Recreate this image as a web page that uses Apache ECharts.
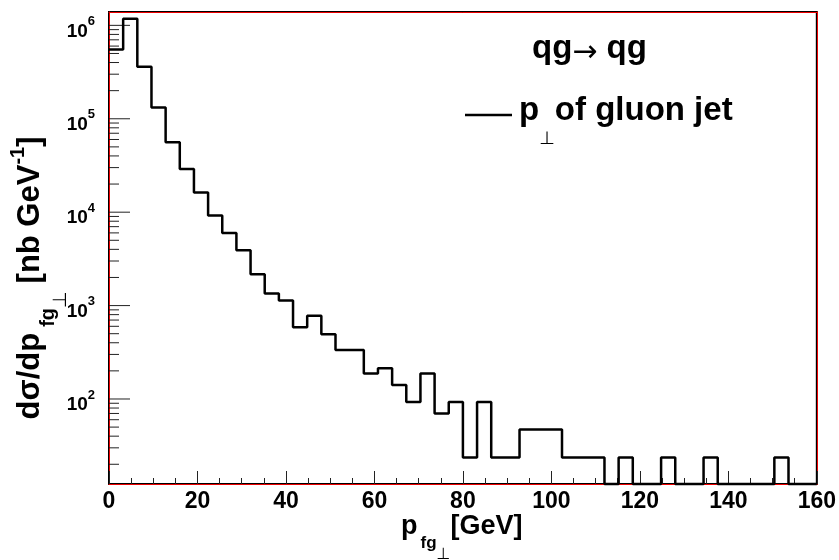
<!DOCTYPE html>
<html><head><meta charset="utf-8">
<script src="https://cdn.jsdelivr.net/npm/echarts@6/dist/echarts.min.js"></script>
<style>html,body{margin:0;padding:0;background:#fff}#c{width:839px;height:560px}</style>
</head><body><div id="c"></div>
<script>
// ---- data ----
const binWidth = 3.2;            // GeV per bin (50 bins over 0..160)
const binCounts = [
  5.5e5, 1.18e6, 3.6e5, 1.32e5, 5.6e4, 2.9e4, 1.62e4, 9.2e3, 6.0e3, 3.9e3,
  2.16e3, 1.35e3, 1.13e3, 585, 776, 493, 334, 334, 188, 213,
  141, 93, 188, 70, 93, 23.7, 93, 23.7, 23.7, 47,
  47, 47, 23.7, 23.7, 23.7, 0, 23.7, 0, 0, 23.7,
  0, 0, 23.7, 0, 0, 0, 0, 23.7, 0, 0
];
const xTickLabels = [0, 20, 40, 60, 80, 100, 120, 140, 160];
const yDecades = [10, 100, 1000, 10000, 100000, 1000000];
const yMinorMultipliers = [2, 3, 4, 5, 6, 7, 8, 9];
const xRange = [0, 160];
const yRange = [12.3, 1.39e6];

const FONT = 'Liberation Sans';
const SYM = 'DejaVu Sans';

// histogram step points from bin edges (empty bins sit on the axis floor)
const floorOf = v => (v > 0 ? v : yRange[0]);
const stepData = binCounts.map((v, i) => [i * binWidth, floorOf(v)]);
stepData.push([binCounts.length * binWidth, floorOf(binCounts[binCounts.length - 1])]);

// ROOT-style tick marks on the log axis (major + minor)
const yTicks = [];
yDecades.forEach(d => {
  if (d >= yRange[0] && d <= yRange[1]) yTicks.push([xRange[0], d, 1]);
  yMinorMultipliers.forEach(m => {
    const v = d * m;
    if (v >= yRange[0] && v <= yRange[1]) yTicks.push([xRange[0], v, 0]);
  });
});

const B = (size, extra) => Object.assign({fontFamily: FONT, fontWeight: 'bold', fontSize: size, lineHeight: size, color: '#000', fill: '#000'}, extra || {});
const S = (size, extra) => Object.assign({fontFamily: SYM, fontWeight: 'normal', fontSize: size, lineHeight: size, color: '#000', fill: '#000'}, extra || {});

const chart = echarts.init(document.getElementById('c'), null, {renderer: 'canvas'});
chart.setOption({
  animation: false,
  backgroundColor: '#fff',
  grid: {left: 109, right: 22, top: 12, bottom: 76, show: true, borderColor: '#000', borderWidth: 2, backgroundColor: '#fff'},
  legend: {
    left: 465, top: 82, padding: 0, itemGap: 0,
    icon: 'rect', itemWidth: 47, itemHeight: 2.5,
    data: [{name: 'pt', itemStyle: {color: '#000'}}],
    formatter: () => '{p|p}{perp|⊥}{t|of gluon jet}',
    textStyle: {rich: {
      p: B(33, {padding: [0, 0, 9, 2]}),
      perp: S(18, {padding: [48, 0, 0, 0]}),
      t: B(33, {padding: [0, 0, 9, 0]})
    }}
  },
  xAxis: [{
    type: 'value', min: xRange[0], max: xRange[1], interval: 20,
    axisLine: {show: true, onZero: false, lineStyle: {color: '#e00', width: 1}},
    axisTick: {show: true, inside: true, length: 13, lineStyle: {color: '#222', width: 1}},
    minorTick: {show: true, splitNumber: 4, length: 6, lineStyle: {color: '#222', width: 1}},
    splitLine: {show: false},
    axisLabel: {fontFamily: FONT, fontWeight: 'bold', fontSize: 23, color: '#000', margin: 6}
  }, {
    type: 'value', position: 'top', min: xRange[0], max: xRange[1],
    axisLine: {show: true, onZero: false, lineStyle: {color: '#e00', width: 1}},
    axisTick: {show: false}, axisLabel: {show: false}, splitLine: {show: false}
  }],
  yAxis: [{
    type: 'log', logBase: 10, min: yRange[0], max: yRange[1], splitNumber: 5,
    axisLine: {show: true, onZero: false, lineStyle: {color: '#e00', width: 1}},
    axisTick: {show: false},
    splitLine: {show: false},
    axisLabel: {
      showMinLabel: false, showMaxLabel: false, margin: 14,
      formatter: v => '{b|10}{s|' + Math.round(Math.log10(v)) + '}',
      rich: {
        b: B(19, {padding: [12, 0, 0, 0]}),
        s: B(13, {padding: [0, 0, 8, 0]})
      }
    }
  }, {
    type: 'value', position: 'right', min: 0, max: 1,
    axisLine: {show: true, onZero: false, lineStyle: {color: '#e00', width: 1}},
    axisTick: {show: false}, axisLabel: {show: false}, splitLine: {show: false}
  }],
  graphic: [{
    // process label
    type: 'text', x: 532, y: 49,
    style: {
      text: '{q|qg}{a|→}{q| qg}', align: 'left', verticalAlign: 'middle',
      rich: {q: B(33), a: S(30, {padding: [8, 0, 0, 0]})}
    }
  }, {
    // x axis title
    type: 'text', x: 401, y: 527,
    style: {
      text: '{p|p}{sub|fg}{perp|⊥}{t|[GeV]}', align: 'left', verticalAlign: 'middle',
      rich: {
        p: B(27), t: B(27),
        sub: B(17, {padding: [33, 0, 0, 3]}),
        perp: S(16, {padding: [56, 0, 0, 0]})
      }
    }
  }, {
    // y axis title
    type: 'text', x: 30, y: 278, rotation: Math.PI / 2,
    style: {
      text: '{n|dσ/dp}{sub|fg}{perp|⊥}{n|[nb GeV}{sup|-1}{n|]}',
      align: 'center', verticalAlign: 'middle',
      rich: {
        n: B(31),
        sub: B(20, {padding: [36, 0, 0, 6]}),
        perp: S(19, {padding: [62, 8, 0, 0]}),
        sup: B(20, {padding: [0, 0, 24, 0]})
      }
    }
  }],
  series: [{
    name: 'pt', type: 'line', step: 'end', data: stepData,
    showSymbol: false, symbol: 'none', clip: false,
    lineStyle: {color: '#000', width: 2.5}, itemStyle: {color: '#000'},
    z: 5
  }, {
    type: 'custom', data: yTicks, silent: true, clip: false, z: 4,
    renderItem: (params, api) => {
      const p = api.coord([api.value(0), api.value(1)]);
      const len = api.value(2) ? 21 : 10;
      return {type: 'line', shape: {x1: p[0], y1: p[1], x2: p[0] + len, y2: p[1]},
              style: {stroke: '#222', lineWidth: 1}};
    }
  }]
});
</script>
</body></html>
